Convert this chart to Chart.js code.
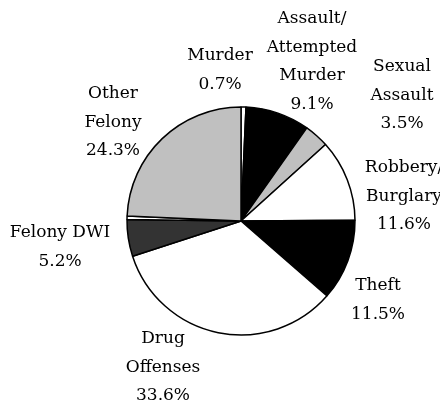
<!DOCTYPE html>
<html>
<head>
<meta charset="utf-8">
<script src="https://cdn.jsdelivr.net/npm/chart.js@4/dist/chart.umd.min.js"></script>
<style>
  html, body { margin: 0; padding: 0; background: #fff; }
  #wrap { width: 440px; height: 407px; }
</style>
</head>
<body>
<div id="wrap"><canvas id="c" width="440" height="407"></canvas></div>
<script>
// Offense categories, clockwise from 12 o'clock (label lines split by "\n")
const categories = [
  "Murder",
  "Assault/\nAttempted\nMurder",
  "Sexual\nAssault",
  "Robbery/\nBurglary",
  "Theft",
  "Drug\nOffenses",
  "Felony DWI",
  "",
  "Other\nFelony"
];
// Share of cases, percent
const shares = [0.7, 9.1, 3.5, 11.6, 11.5, 33.6, 5.2, 0.5, 24.3];
const sliceColors = ["#ffffff", "#000000", "#c0c0c0", "#ffffff", "#000000",
                     "#ffffff", "#333333", "#ffffff", "#c0c0c0"];

// Label placement: horizontal centre and first baseline of each text block
const labelAnchors = [
  { x: 220, y: 60 },
  { x: 312, y: 23 },
  { x: 402, y: 71 },
  { x: 404, y: 172 },
  { x: 378, y: 290 },
  { x: 163, y: 343 },
  { x: 60,  y: 237 },
  null,
  { x: 113, y: 98 }
];
const LINE_H = 28.5;

const sliceLabels = {
  id: "sliceLabels",
  afterDatasetsDraw(chart) {
    const ctx = chart.ctx;
    ctx.save();
    ctx.font = "17px 'DejaVu Serif'";
    ctx.fillStyle = "#000";
    ctx.textAlign = "center";
    ctx.textBaseline = "alphabetic";
    categories.forEach((name, i) => {
      const a = labelAnchors[i];
      if (!name || !a) return;
      const lines = name.split("\n").concat([shares[i].toFixed(1) + "%"]);
      lines.forEach((t, k) => ctx.fillText(t, a.x, a.y + k * LINE_H));
    });
    ctx.restore();
  }
};

new Chart(document.getElementById("c"), {
  type: "pie",
  data: {
    labels: categories.map(s => s.replace(/\n/g, " ")),
    datasets: [{
      data: shares,
      backgroundColor: sliceColors,
      borderColor: "#000000",
      borderWidth: 1.5,
      radius: 114
    }]
  },
  options: {
    responsive: false,
    animation: false,
    layout: { padding: { left: 127, right: 85, top: 107, bottom: 72 } },
    plugins: {
      legend: { display: false },
      tooltip: { enabled: false }
    }
  },
  plugins: [sliceLabels]
});
</script>
</body>
</html>
